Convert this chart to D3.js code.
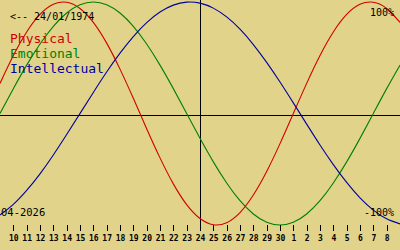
<!DOCTYPE html>
<html>
<head>
<meta charset="utf-8">
<script src="https://cdn.jsdelivr.net/npm/d3@7"></script>
<style>
  html, body { margin: 0; padding: 0; background: #e1d38a; }
  svg { display: block; }
</style>
</head>
<body>
<div id="chart"></div>
<script>
const W = 400, H = 250;

// Day labels, from 9 April to 9 May (first and last are the plot edges, unlabelled)
const dayLabels = ["9","10","11","12","13","14","15","16","17","18","19","20","21","22","23","24",
                   "25","26","27","28","29","30","1","2","3","4","5","6","7","8","9"];

// one value per day (-1 .. 1)
const physical = [0.270,0.520,0.731,0.888,0.979,0.998,0.942,0.817,0.631,0.398,0.136,-0.136,-0.398,-0.631,
                  -0.817,-0.942,-0.998,-0.979,-0.888,-0.731,-0.520,-0.270,0,0.270,0.520,0.731,0.888,0.979,
                  0.998,0.942,0.817];
const emotional = [0,0.223,0.434,0.623,0.782,0.901,0.975,1,0.975,0.901,0.782,0.623,0.434,0.223,0,
                   -0.223,-0.434,-0.623,-0.782,-0.901,-0.975,-1,-0.975,-0.901,-0.782,-0.623,-0.434,-0.223,
                   0,0.223,0.434];
const intellectual = [-0.910,-0.815,-0.690,-0.541,-0.372,-0.189,0,0.189,0.372,0.541,0.690,0.815,0.910,0.972,
                      0.999,0.990,0.945,0.866,0.756,0.618,0.458,0.282,0.095,-0.095,-0.282,-0.458,-0.618,
                      -0.756,-0.866,-0.945,-0.990];

const seriesNames = ["Physical", "Emotional", "Intellectual"];
const seriesColors = ["#d00000", "#008000", "#0000a0"];
const seriesData = [physical, emotional, intellectual];

const birthLabel = "<-- 24/01/1974";
const monthLabel = "04-2026";
const todayIndex = 15; // "24"

const svg = d3.select("#chart").append("svg")
    .attr("width", W)
    .attr("height", H);

svg.append("rect").attr("width", W).attr("height", H).attr("fill", "#e1d38a");

const x = d3.scaleLinear().domain([0, dayLabels.length - 1]).range([0, W]);
const y = d3.scaleLinear().domain([-1, 1]).range([225, 2]);

// zero line
svg.append("line")
    .attr("x1", 0).attr("x2", W)
    .attr("y1", 115).attr("y2", 115)
    .attr("stroke", "#000").attr("stroke-width", 1)
    .attr("shape-rendering", "crispEdges");

// today line
svg.append("line")
    .attr("x1", x(todayIndex)).attr("x2", x(todayIndex))
    .attr("y1", 0).attr("y2", 231)
    .attr("stroke", "#000").attr("stroke-width", 1)
    .attr("shape-rendering", "crispEdges");

// curves
const line = d3.line()
    .x((d, i) => x(i))
    .y(d => y(d))
    .curve(d3.curveNatural);

svg.selectAll("path.bio")
    .data(seriesData)
    .enter()
    .append("path")
    .attr("class", "bio")
    .attr("d", d => line(d))
    .attr("fill", "none")
    .attr("stroke", (d, i) => seriesColors[i])
    .attr("stroke-width", 1.1);

// day axis
const tickIdx = d3.range(1, dayLabels.length - 1);
const axis = svg.append("g")
    .attr("transform", "translate(0,225)")
    .call(d3.axisBottom(x)
        .tickValues(tickIdx)
        .tickFormat(i => dayLabels[i])
        .tickSize(6)
        .tickPadding(4));
axis.select(".domain").remove();
axis.selectAll("line").attr("stroke", "#000").attr("shape-rendering", "crispEdges");
axis.selectAll("text")
    .attr("fill", "#000")
    .style("font-family", "'DejaVu Sans Mono', monospace")
    .style("font-size", "8px")
    .style("font-weight", "bold");

// texts
const mono = "'DejaVu Sans Mono', monospace";
svg.append("text").attr("x", 10).attr("y", 20).text(birthLabel)
    .attr("font-family", mono).attr("font-size", 10).attr("fill", "#000");

svg.selectAll("text.legend")
    .data(seriesNames)
    .enter()
    .append("text")
    .attr("class", "legend")
    .attr("x", 10)
    .attr("y", (d, i) => 43 + i * 15)
    .text(d => d)
    .attr("font-family", mono)
    .attr("font-size", 13)
    .attr("fill", (d, i) => seriesColors[i]);

svg.append("text").attr("x", 394).attr("y", 16).attr("text-anchor", "end").text("100%")
    .attr("font-family", mono).attr("font-size", 10).attr("fill", "#000");
svg.append("text").attr("x", 394).attr("y", 216).attr("text-anchor", "end").text("-100%")
    .attr("font-family", mono).attr("font-size", 10).attr("fill", "#000");
svg.append("text").attr("x", 1).attr("y", 216).text(monthLabel)
    .attr("font-family", mono).attr("font-size", 10.5).attr("fill", "#000");
</script>
</body>
</html>
